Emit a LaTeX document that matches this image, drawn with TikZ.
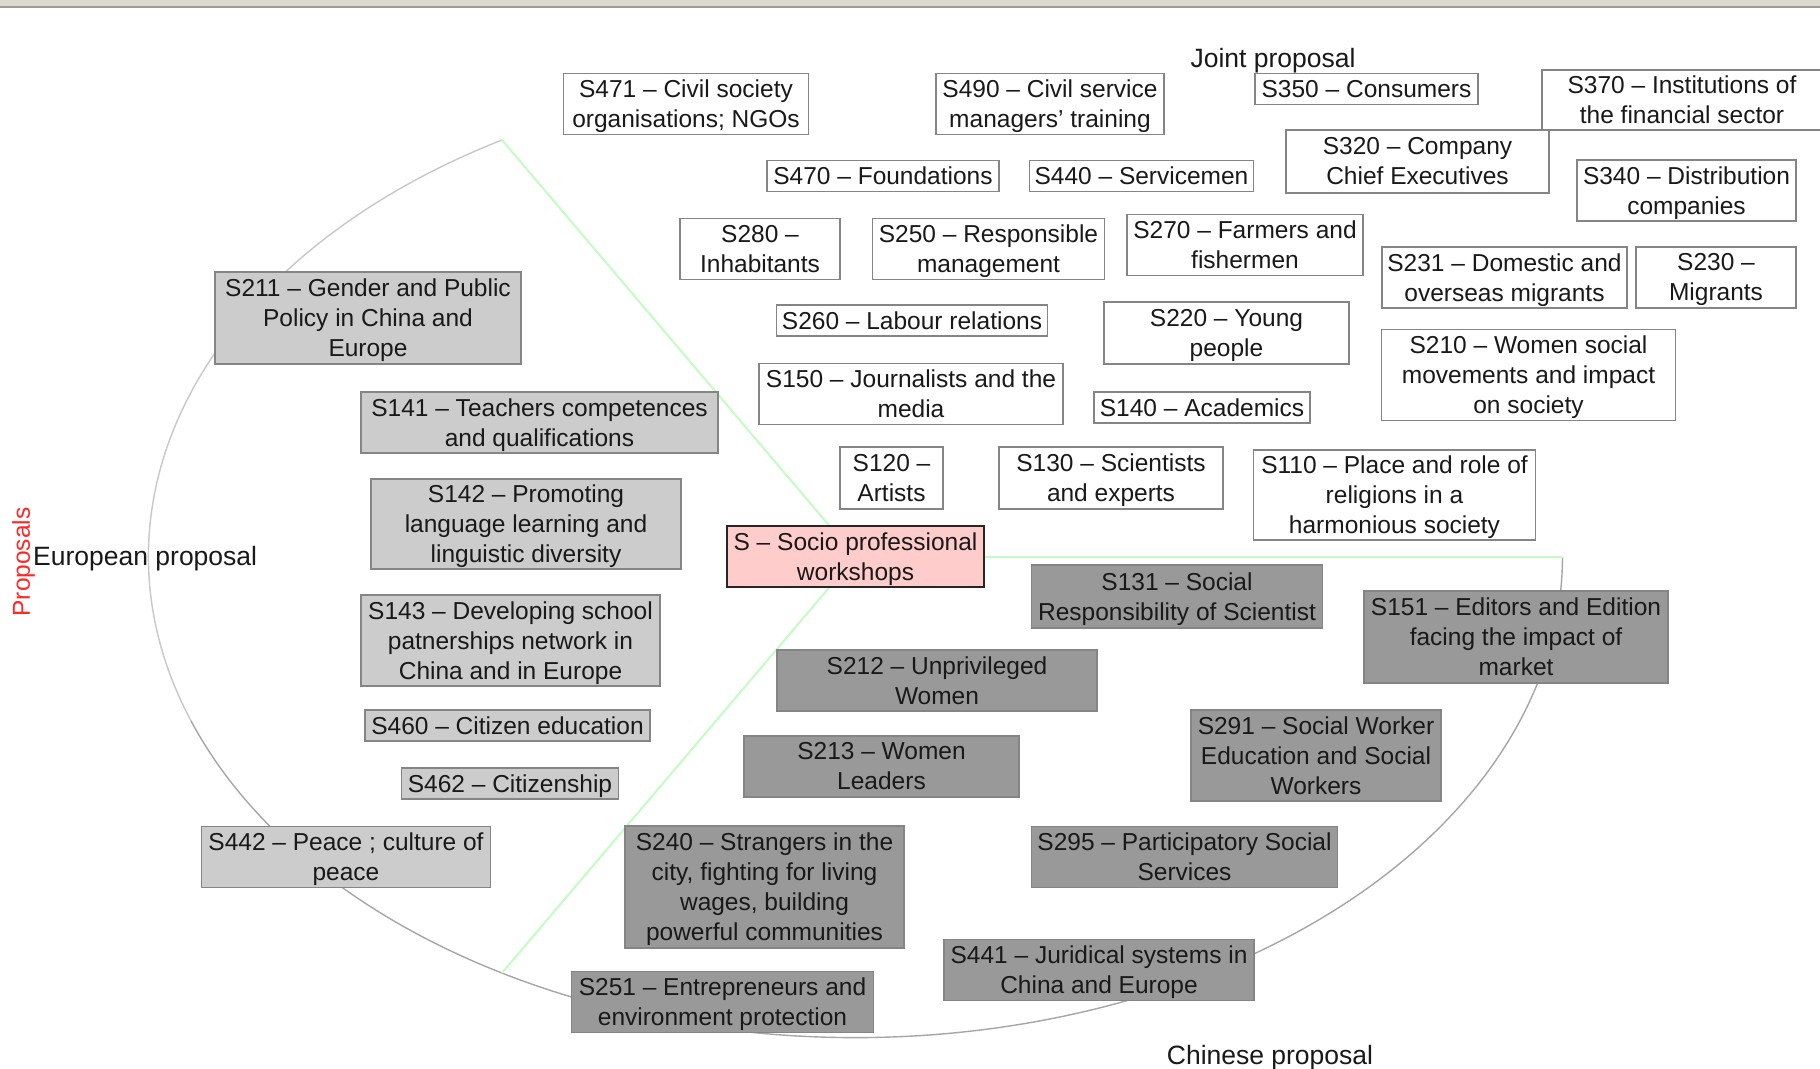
\documentclass[tikz,border=0pt]{standalone}
\usepackage{fontspec}
\setmainfont{Liberation Sans}
\definecolor{barfill}{HTML}{DCDACE}
\definecolor{barline}{HTML}{9C9C94}
\definecolor{boxline}{HTML}{858585}
\definecolor{eurofill}{HTML}{CCCCCC}
\definecolor{chinafill}{HTML}{999999}
\definecolor{pinkfill}{HTML}{FFCCCC}
\definecolor{divline}{HTML}{C4FCC4}
\definecolor{arclight}{HTML}{C8C8C8}
\definecolor{arcdark}{HTML}{A6A6A6}
\tikzset{
	sbox/.style={draw=boxline, line width=1.3pt, inner sep=0pt, align=center, text=black!90, font=\fontsize{24.5}{30}\selectfont, text depth=0.6pt},
	single/.style={text height=22.2pt, text depth=5.2pt},
	joint/.style={sbox, fill=white},
	euro/.style={sbox, fill=eurofill},
	chinese/.style={sbox, fill=chinafill},
	socio/.style={sbox, fill=pinkfill, draw=black!85, line width=1.6pt},
	sz/.style 2 args={minimum width=#1pt, minimum height=#2pt},
	part/.style={inner sep=0pt, text=black!90, font=\fontsize{26.5}{30}\selectfont},
}

\begin{document}
\begin{tikzpicture}[x=1pt,y=-1pt]
		%%%%% START %%%%%
		\useasboundingbox (0,0) rectangle (1820,1068);
		\fill[white] (0,0) rectangle (1820,1068);
		\fill[barfill] (0,0) rectangle (1820,6);
		\fill[barline] (0,6) rectangle (1820,8);
		
		% pie: three proposals
		\coordinate (mid) at (855.5,556.5);
		\coordinate (eutop) at (502,140);
		\coordinate (euleft) at (191.1,721);
		\coordinate (eubot) at (502,973);
		\coordinate (cnright) at (1562.5,556.5);
		\draw[arclight, line width=1.4pt] (eutop) arc[start angle=-120, end angle=-200, x radius=707, y radius=481];
		\draw[arcdark, line width=1.4pt] (euleft) arc[start angle=-200, end angle=-360, x radius=707, y radius=481];
		\draw[divline, line width=2pt] (mid) -- (eutop);
		\draw[divline, line width=2pt] (mid) -- (eubot);
		\draw[divline, line width=2pt] (mid) -- (cnright);
		
		\node[part] (jointlbl) at (1273,60.5) {Joint proposal};
		\node[part, anchor=west] (eurolbl) at (33,559) {European proposal};
		\node[part] (chinalbl) at (1270,1057.5) {Chinese proposal};
		\node[part, text=red!85, rotate=90, font=\fontsize{24.5}{29.5}\selectfont] (props) at (23.5,562) {Proposals};
		
		% joint proposal
		\node[joint, sz={245}{61}] (s471) at (686,104) {S471 – Civil society\\organisations; NGOs};
		\node[joint, sz={228}{61}] (s490) at (1050,104) {S490 – Civil service\\managers’ training};
		\node[joint, single, sz={223}{31}] (s350) at (1366.5,89) {S350 – Consumers};
		\node[joint, sz={280}{60}] (s370) at (1682,100) {S370 – Institutions of\\the financial sector};
		\node[joint, single, sz={232}{31}] (s470) at (883,176) {S470 – Foundations};
		\node[joint, single, sz={224}{31}] (s440) at (1141.5,176) {S440 – Servicemen};
		\node[joint, sz={263}{63}] (s320) at (1417.5,161.5) {S320 – Company\\Chief Executives};
		\node[joint, sz={219}{61}] (s340) at (1686.5,190.5) {S340 – Distribution\\companies};
		\node[joint, sz={160}{61}] (s280) at (760,249) {S280 –\\Inhabitants};
		\node[joint, sz={232}{61}] (s250) at (988.5,249) {S250 – Responsible\\management};
		\node[joint, sz={236}{61}] (s270) at (1245,245) {S270 – Farmers and\\fishermen};
		\node[joint, sz={245}{61}] (s231) at (1504.5,277.5) {S231 – Domestic and\\overseas migrants};
		\node[joint, sz={160}{61}] (s230) at (1716,277.5) {S230 –\\Migrants};
		\node[joint, single, sz={271}{31}] (s260) at (912,320.5) {S260 – Labour relations};
		\node[joint, sz={245}{62}] (s220) at (1226.5,333) {S220 – Young\\people};
		\node[joint, sz={294}{91}] (s210) at (1528.5,375) {S210 – Women social\\movements and impact\\on society};
		\node[joint, sz={304}{61}] (s150) at (911,394) {S150 – Journalists and the\\media};
		\node[joint, single, sz={216}{31}] (s140) at (1202,407.5) {S140 – Academics};
		\node[joint, sz={103}{62}] (s120) at (891.5,478) {S120 –\\Artists};
		\node[joint, sz={224}{62}] (s130) at (1111,478) {S130 – Scientists\\and experts};
		\node[joint, sz={282}{90}] (s110) at (1394.5,495) {S110 – Place and role of\\religions in a\\harmonious society};
		
		\node[socio, sz={257}{61}] (socio) at (mid) {S – Socio professional\\workshops};
		
		% european proposal
		\node[euro, sz={306}{92}] (s211) at (368,318) {S211 – Gender and Public\\Policy in China and\\Europe};
		\node[euro, sz={357}{61}] (s141) at (539.5,422.5) {S141 – Teachers competences\\and qualifications};
		\node[euro, sz={310}{90}] (s142) at (526,524) {S142 – Promoting\\language learning and\\linguistic diversity};
		\node[euro, sz={299}{91}] (s143) at (510.5,640.5) {S143 – Developing school\\patnerships network in\\China and in Europe};
		\node[euro, single, sz={285}{31}] (s460) at (507.5,725.5) {S460 – Citizen education};
		\node[euro, single, sz={217}{31}] (s462) at (510,783.5) {S462 – Citizenship};
		\node[euro, sz={289}{61}] (s442) at (346,857) {S442 – Peace ; culture of\\peace};
		
		% chinese proposal
		\node[chinese, sz={291}{63}] (s131) at (1177,596.5) {S131 – Social\\Responsibility of Scientist};
		\node[chinese, sz={304}{92}] (s151) at (1516,637) {S151 – Editors and Edition\\facing the impact of\\market};
		\node[chinese, sz={320}{61}] (s212) at (937,680.5) {S212 – Unprivileged\\Women};
		\node[chinese, sz={275}{61}] (s213) at (881.5,766.5) {S213 – Women\\Leaders};
		\node[chinese, sz={250}{91}] (s291) at (1316,755.5) {S291 – Social Worker\\Education and Social\\Workers};
		\node[chinese, sz={279}{122}] (s240) at (764.5,887) {S240 – Strangers in the\\city, fighting for living\\wages, building\\powerful communities};
		\node[chinese, sz={306}{61}] (s295) at (1184.5,857) {S295 – Participatory Social\\Services};
		\node[chinese, sz={310}{61}] (s441) at (1099,970) {S441 – Juridical systems in\\China and Europe};
		\node[chinese, sz={302}{61}] (s251) at (722.5,1002) {S251 – Entrepreneurs and\\environment protection};
		%%%%% END %%%%%
\end{tikzpicture}
\end{document}
